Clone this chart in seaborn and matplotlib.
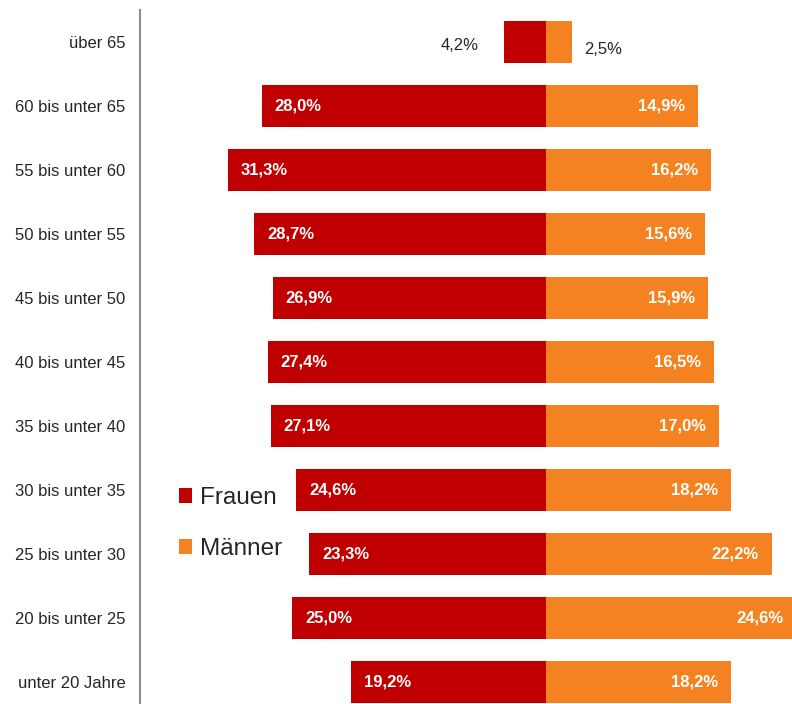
import numpy as np
import pandas as pd
import matplotlib.pyplot as plt
import seaborn as sns

# Data
ages = ["über 65", "60 bis unter 65", "55 bis unter 60", "50 bis unter 55",
        "45 bis unter 50", "40 bis unter 45", "35 bis unter 40", "30 bis unter 35",
        "25 bis unter 30", "20 bis unter 25", "unter 20 Jahre"]
frauen = [4.2, 28.0, 31.3, 28.7, 26.9, 27.4, 27.1, 24.6, 23.3, 25.0, 19.2]
maenner = [2.5, 14.9, 16.2, 15.6, 15.9, 16.5, 17.0, 18.2, 22.2, 24.6, 18.2]
groups = ["Frauen", "Männer"]
colors = {"Frauen": "#C00000", "Männer": "#F58220"}

sns.set_style("white")
plt.rcParams['font.family'] = ['Liberation Sans', 'DejaVu Sans']

# Long format, Frauen to the left
df = pd.DataFrame({
    'alter': ages * 2,
    'wert': [-v for v in frauen] + maenner,
    'geschlecht': ['Frauen'] * len(ages) + ['Männer'] * len(ages),
})

fig = plt.figure(figsize=(7.92, 7.04), dpi=100)
ax = fig.add_axes([139.5 / 792, -10 / 704, 1 - 139.5 / 792, 1.0])

sns.barplot(data=df, x='wert', y='alter', hue='geschlecht', order=ages,
            hue_order=groups, palette=colors, dodge=False, width=0.66,
            saturation=1, linewidth=0, ax=ax)

ax.set_xlim(-40, 24.17)
ax.set_ylim(10.5, -0.5)
ax.set_xticks([])
ax.set_xlabel('')
ax.set_ylabel('')
for s in ['top', 'right', 'bottom']:
    ax.spines[s].set_visible(False)
ax.spines['left'].set_color('#8c8c8c')
ax.spines['left'].set_linewidth(1.5)
ax.tick_params(axis='y', length=0, pad=10, labelsize=12, labelcolor='#262626')


def lab(v):
    return f"{v:.1f}%".replace('.', ',')


for i, (f, m) in enumerate(zip(frauen, maenner)):
    if i == 0:
        ax.annotate(lab(f), xy=(-f, i), xytext=(-25, -3), textcoords='offset pixels',
                    ha='right', va='center', fontsize=12, color='#262626',
                    annotation_clip=False)
        ax.annotate(lab(m), xy=(m, i), xytext=(12, -7), textcoords='offset pixels',
                    ha='left', va='center', fontsize=12, color='#262626',
                    annotation_clip=False)
    else:
        ax.annotate(lab(f), xy=(-f, i), xytext=(13, 0), textcoords='offset pixels',
                    ha='left', va='center', fontsize=12, fontweight='bold',
                    color='white', annotation_clip=False)
        ax.annotate(lab(m), xy=(m, i), xytext=(-13, 0), textcoords='offset pixels',
                    ha='right', va='center', fontsize=12, fontweight='bold',
                    color='white', annotation_clip=False)

handles, labels = ax.get_legend_handles_labels()
ax.legend(handles, labels, loc='upper left', bbox_to_anchor=(179 / 792, 1 - 487 / 704),
          bbox_transform=fig.transFigure, frameon=False, fontsize=17.5,
          handlelength=0.55, handleheight=0.55, handletextpad=0.3,
          labelspacing=1.2, borderpad=0, borderaxespad=0)

fig.savefig('out.png', dpi=100)
